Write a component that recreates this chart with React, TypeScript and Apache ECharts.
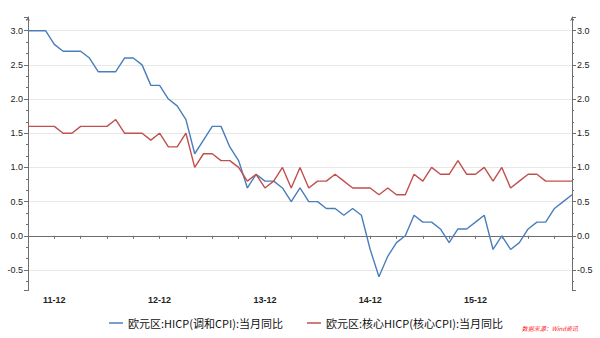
import React, { useEffect, useRef } from "react";
import * as echarts from "echarts";

const months: string[] = [
  "11-09", "11-10", "11-11", "11-12",
  "12-01", "12-02", "12-03", "12-04", "12-05", "12-06", "12-07", "12-08", "12-09", "12-10", "12-11", "12-12",
  "13-01", "13-02", "13-03", "13-04", "13-05", "13-06", "13-07", "13-08", "13-09", "13-10", "13-11", "13-12",
  "14-01", "14-02", "14-03", "14-04", "14-05", "14-06", "14-07", "14-08", "14-09", "14-10", "14-11", "14-12",
  "15-01", "15-02", "15-03", "15-04", "15-05", "15-06", "15-07", "15-08", "15-09", "15-10", "15-11", "15-12",
  "16-01", "16-02", "16-03", "16-04", "16-05", "16-06", "16-07", "16-08", "16-09", "16-10", "16-11",
];

const hicp: number[] = [
  3.0, 3.0, 3.0, 2.8,
  2.7, 2.7, 2.7, 2.6, 2.4, 2.4, 2.4, 2.6, 2.6, 2.5, 2.2, 2.2,
  2.0, 1.9, 1.7, 1.2, 1.4, 1.6, 1.6, 1.3, 1.1, 0.7, 0.9, 0.8,
  0.8, 0.7, 0.5, 0.7, 0.5, 0.5, 0.4, 0.4, 0.3, 0.4, 0.3, -0.2,
  -0.6, -0.3, -0.1, 0.0, 0.3, 0.2, 0.2, 0.1, -0.1, 0.1, 0.1, 0.2,
  0.3, -0.2, 0.0, -0.2, -0.1, 0.1, 0.2, 0.2, 0.4, 0.5, 0.6,
];

const coreHicp: number[] = [
  1.6, 1.6, 1.6, 1.6,
  1.5, 1.5, 1.6, 1.6, 1.6, 1.6, 1.7, 1.5, 1.5, 1.5, 1.4, 1.5,
  1.3, 1.3, 1.5, 1.0, 1.2, 1.2, 1.1, 1.1, 1.0, 0.8, 0.9, 0.7,
  0.8, 1.0, 0.7, 1.0, 0.7, 0.8, 0.8, 0.9, 0.8, 0.7, 0.7, 0.7,
  0.6, 0.7, 0.6, 0.6, 0.9, 0.8, 1.0, 0.9, 0.9, 1.1, 0.9, 0.9,
  1.0, 0.8, 1.0, 0.7, 0.8, 0.9, 0.9, 0.8, 0.8, 0.8, 0.8,
];

const seriesNames: string[] = [
  "欧元区:HICP(调和CPI):当月同比",
  "欧元区:核心HICP(核心CPI):当月同比",
];

const yMin = -0.8;
const yMax = 3.2;

export default function App() {
  const ref = useRef<HTMLDivElement>(null);

  useEffect(() => {
    if (!ref.current) return;
    const chart = echarts.init(ref.current, null, { renderer: "svg" });

    const axisLineColor = "#6e6e6e";
    const yAxisCommon = {
      type: "value" as const,
      min: yMin,
      max: yMax,
      splitNumber: 8,
      axisLine: {
        show: true,
        symbol: ["none", "arrow"],
        symbolSize: [3, 4],
        lineStyle: { color: axisLineColor, width: 1 },
      },
      axisTick: { show: true, length: 4, lineStyle: { color: axisLineColor } },
      minorTick: { show: true, splitNumber: 3, length: 2, lineStyle: { color: axisLineColor } },
      axisLabel: {
        show: true,
        margin: 5,
        fontSize: 9,
        fontFamily: "Liberation Sans",
        color: "#222",
        showMinLabel: false,
        showMaxLabel: false,
        formatter: (v: number) => v.toFixed(1),
      },
    };

    chart.setOption({
      animation: false,
      backgroundColor: "#ffffff",
      grid: { left: 28, right: 28, top: 17, bottom: 47.5, containLabel: false },
      xAxis: {
        type: "category",
        data: months,
        boundaryGap: false,
        axisLine: { show: true, lineStyle: { color: axisLineColor, width: 1 } },
        axisTick: {
          show: true,
          length: 3,
          interval: (index: number) => index % 3 === 0,
          lineStyle: { color: axisLineColor },
        },
        axisLabel: {
          margin: 5,
          fontSize: 9,
          fontWeight: "bold",
          fontFamily: "Liberation Sans",
          color: "#222",
          interval: (_i: number, value: string) => value.endsWith("-12"),
        },
        splitLine: { show: false },
      },
      yAxis: [
        {
          ...yAxisCommon,
          position: "left",
          splitLine: {
            show: true,
            showMinLine: false,
            showMaxLine: false,
            lineStyle: { color: "#e8e8e8", width: 1 },
          },
        },
        {
          ...yAxisCommon,
          position: "right",
          splitLine: { show: false },
        },
      ],
      legend: {
        left: 104,
        top: 310,
        icon: "rect",
        itemWidth: 14,
        itemHeight: 1.5,
        itemGap: 24,
        textStyle: { fontSize: 11, color: "#111", fontFamily: "Noto Sans CJK SC", lineHeight: 16 },
        data: seriesNames,
      },
      series: [
        {
          name: seriesNames[0],
          type: "line",
          data: hicp,
          symbol: "none",
          lineStyle: { color: "#4a7ebb", width: 1.4 },
          itemStyle: { color: "#4a7ebb" },
        },
        {
          name: seriesNames[1],
          type: "line",
          data: coreHicp,
          symbol: "none",
          lineStyle: { color: "#c0504d", width: 1.4 },
          itemStyle: { color: "#c0504d" },
        },
      ],
      graphic: [
        {
          type: "text",
          right: 22,
          top: 325,
          style: {
            text: "数据来源：Wind资讯",
            fill: "#ff2020",
            font: "italic 6px 'Noto Sans CJK SC'",
          },
        },
      ],
    });

    return () => chart.dispose();
  }, []);

  return <div ref={ref} style={{ width: 600, height: 338, position: "fixed", left: 0, top: 0 }} />;
}
